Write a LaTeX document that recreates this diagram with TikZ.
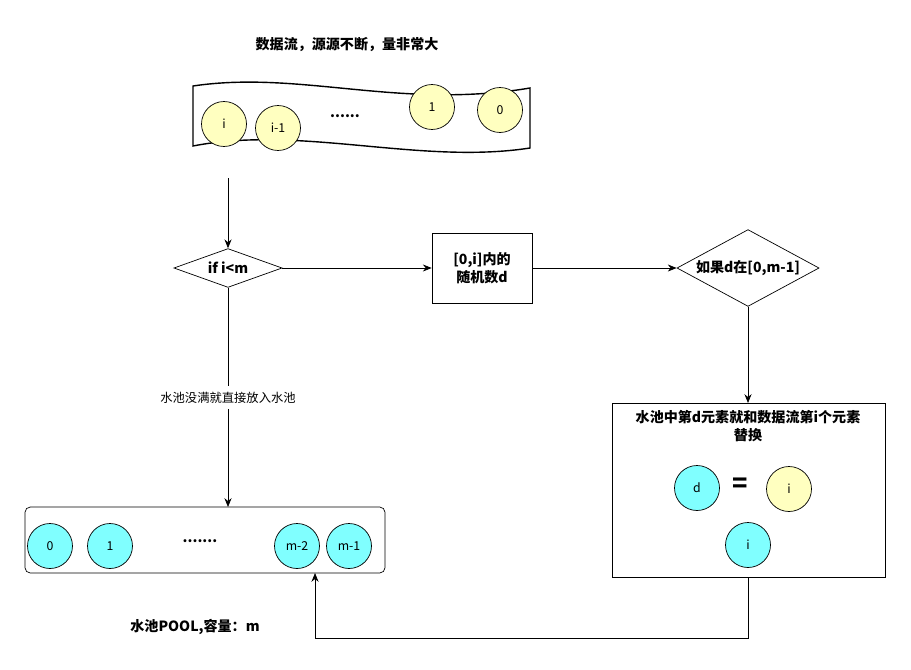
\documentclass[tikz,border=0pt]{standalone}
\usepackage{fontspec}
\setmainfont{Noto Sans CJK SC}
\usetikzlibrary{shapes.geometric,arrows.meta}
\definecolor{ylw}{HTML}{FFFFC0}
\definecolor{cyn}{HTML}{80FFFF}
\tikzset{
  ball/.style={circle,draw,minimum size=0.9cm,inner sep=0pt,font=\fontsize{7}{8}\selectfont},
  yball/.style={ball,fill=ylw},
  cball/.style={ball,fill=cyn},
  box/.style={draw,align=center,font=\bfseries\fontsize{8}{10}\selectfont},
  dec/.style={diamond,draw,aspect=1.85,inner sep=1pt,font=\bfseries\fontsize{8}{10}\selectfont},
  arr/.style={-{Stealth[length=5pt,width=4pt]}},
  txt/.style={font=\bfseries\fontsize{8}{10}\selectfont}
}
\begin{document}
\begin{tikzpicture}[x=0.02cm,y=-0.02cm]
\useasboundingbox (0,0) rectangle (911,669);

% data stream
\node[txt] (title) at (347,45) {数据流，源源不断，量非常大};
\draw[thick] (193,86) .. controls (300,70) and (400,110) .. (530,88)
  -- (530,148) .. controls (420,165) and (300,125) .. (193,146) -- cycle;
\node[yball] (si) at (224,124) {i};
\node[yball] (si1) at (278,128) {i-1};
\node[txt] (sdots) at (345,116) {......};
\node[yball] (s1) at (432,107) {1};
\node[yball] (s0) at (500,110) {0};

% flow
\coordinate (start) at (228,178);
\node[dec,minimum width=154\pgflinewidth] (ifm) at (228,268) {if i<m};
\node[box,minimum width=2cm,minimum height=1.4cm] (rnd) at (482,268) {[0,i]内的\\随机数d};
\node[dec] (ind) at (748,268) {如果d在[0,m-1]};
\draw[arr] (start) -- (ifm.north);
\draw[arr] (ifm.east) -- (rnd.west);
\draw[arr] (rnd.east) -- (ind.west);

% replace box
\draw (612,403) rectangle (885,577);
\coordinate (rtop) at (748,403);
\coordinate (rbot) at (748,577);
\node[txt,align=center] (rtxt) at (748,426) {水池中第d元素就和数据流第i个元素\\替换};
\node[cball] (rd) at (697,488) {d};
\node[txt,font=\bfseries\Large] (eq) at (740,485) {=};
\node[yball] (ri) at (789,489) {i};
\node[cball] (ri2) at (748,545) {i};
\draw[arr] (ind.south) -- (rtop);

% pool
\draw[rounded corners=3pt] (25,507) rectangle (385,573);
\coordinate (ptop) at (228,507);
\coordinate (pin) at (315,573);
\node[cball] (p0) at (50,546) {0};
\node[cball] (p1) at (110,546) {1};
\node[txt] (pdots) at (200,541) {.......};
\node[cball] (pm2) at (297,546) {m-2};
\node[cball] (pm1) at (349,546) {m-1};
\node[txt] (pool) at (195,627) {水池POOL,容量：m};

\draw[arr] (ifm.south) -- node[fill=white,font=\fontsize{7}{8}\selectfont] {水池没满就直接放入水池} (ptop);
\draw[arr] (rbot) |- (531,638) -| (pin);
\end{tikzpicture}
\end{document}
